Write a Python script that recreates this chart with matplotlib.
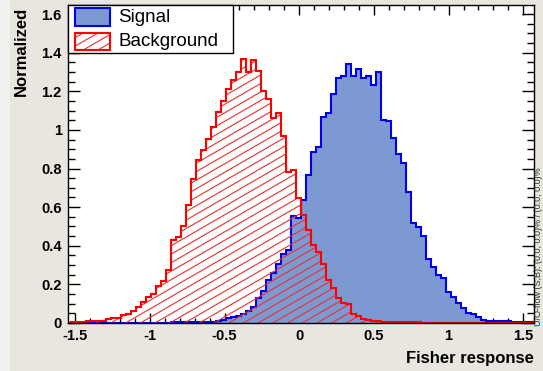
import numpy as np
import matplotlib
matplotlib.use("Agg")
import matplotlib.pyplot as plt
from matplotlib.patches import Rectangle
from matplotlib.collections import LineCollection
from matplotlib.ticker import MultipleLocator
from matplotlib.transforms import IdentityTransform

plt.rcParams['font.family'] = ['Liberation Sans', 'DejaVu Sans']

# ---------------- data ----------------
bin_lo = -1.558
bin_width = 0.03347

signal = [
    0, 0, 0, 0, 0, 0, 0, 0, 0, 0,
    0, 0, 0, 0, 0, 0, 0, 0.001, 0.001, 0.002,
    0.002, 0.003, 0.003, 0.004, 0.004, 0.005, 0.005, 0.006, 0.006, 0.007,
    0.008, 0.015, 0.024, 0.030, 0.035, 0.045, 0.060, 0.084, 0.130, 0.165,
    0.222, 0.260, 0.305, 0.355, 0.380, 0.553, 0.545, 0.636, 0.765, 0.885,
    0.911, 1.065, 1.087, 1.187, 1.267, 1.278, 1.342, 1.277, 1.318, 1.269,
    1.277, 1.234, 1.299, 1.051, 1.047, 0.957, 0.877, 0.828, 0.679, 0.518,
    0.498, 0.452, 0.332, 0.291, 0.248, 0.231, 0.162, 0.136, 0.102, 0.076,
    0.050, 0.045, 0.033, 0.015, 0.012, 0.012, 0.012, 0.012, 0.010, 0.006,
    0.006, 0.006, 0.006, 0.006,
]

background = [
    0.002, 0.003, 0.003, 0.006, 0.008, 0.010, 0.010, 0.012, 0.020, 0.024,
    0.025, 0.040, 0.048, 0.060, 0.085, 0.108, 0.137, 0.150, 0.193, 0.220,
    0.274, 0.432, 0.445, 0.500, 0.610, 0.748, 0.842, 0.894, 0.954, 1.015,
    1.092, 1.152, 1.213, 1.261, 1.302, 1.368, 1.300, 1.364, 1.307, 1.204,
    1.161, 1.060, 1.090, 0.970, 0.780, 0.790, 0.646, 0.560, 0.480, 0.403,
    0.368, 0.308, 0.222, 0.179, 0.129, 0.105, 0.100, 0.045, 0.036, 0.020,
    0.018, 0.012, 0.008, 0.007, 0.006, 0.004, 0.004, 0.004, 0.003, 0.003,
    0.003, 0.002, 0.002, 0.002, 0.002, 0.001, 0.001, 0.001, 0.001, 0.001,
    0.001, 0.001, 0, 0, 0, 0, 0, 0, 0, 0,
    0, 0, 0, 0,
]

x_ticks = [-1.5, -1, -0.5, 0, 0.5, 1, 1.5]
x_tick_labels = ["-1.5", "-1", "-0.5", "0", "0.5", "1", "1.5"]
y_ticks = [0, 0.2, 0.4, 0.6, 0.8, 1.0, 1.2, 1.4, 1.6]
y_tick_labels = ["0", "0.2", "0.4", "0.6", "0.8", "1", "1.2", "1.4", "1.6"]
x_label = "Fisher response"
y_label = "Normalized"
legend_labels = ["Signal", "Background"]
uo_text = "U/O-flow (S,B): (0.0, 0.0)% / (0.0, 0.0)%"

# ---------------- style ----------------
W, H = 543, 371
sig_fill = '#7d99d1'
sig_line = '#0000ee'
bkg_line = '#ff0000'
hatch_col = '#e83030'

fig = plt.figure(figsize=(W / 100, H / 100), dpi=100)
fig.patch.set_facecolor('#e8e6de')
fig.patches.append(Rectangle((0, 0), 10 / W, 1, transform=fig.transFigure,
                             facecolor='#f1f1f0', edgecolor='none', zorder=-5))


def px(x, y):
    """pixel (from top-left) -> figure fraction"""
    return x / W, 1 - y / H


ax_l, ax_r, ax_t, ax_b = 68, 534, 5, 323
ax = fig.add_axes([ax_l / W, 1 - ax_b / H, (ax_r - ax_l) / W, (ax_b - ax_t) / H])
ax.set_facecolor('#fffffd')

edges = bin_lo + bin_width * np.arange(len(signal) + 1)

ax.stairs(signal, edges, fill=True, facecolor=sig_fill, edgecolor='none', zorder=2)
ax.stairs(signal, edges, color=sig_line, lw=1.5, zorder=3)
bkg_patch = ax.stairs(background, edges, fill=True, facecolor='none',
                      edgecolor='none', zorder=4)


def hatch_segments(x0, x1, y0, y1, angle_deg=30, spacing=8.0):
    t = np.tan(np.radians(angle_deg))
    segs = []
    c = y0 - (x1 - x0) * t - spacing
    while c < y1 + spacing:
        segs.append([(x0, c), (x1, c + (x1 - x0) * t)])
        c += spacing
    return segs


# hatch for background histogram (display pixel coords, origin bottom-left)
segs = hatch_segments(0, W, 0, H, 30, 8.5)
lc = LineCollection(segs, colors=hatch_col, linewidths=0.8,
                    transform=IdentityTransform(), zorder=4.5)
ax.add_collection(lc, autolim=False)
lc.set_clip_path(bkg_patch)

ax.stairs(background, edges, color=bkg_line, lw=1.5, zorder=5)

ax.set_xlim(-1.5476, 1.5716)
ax.set_ylim(0, 1.647)

ax.set_xticks(x_ticks, x_tick_labels)
ax.set_yticks(y_ticks, y_tick_labels)
ax.xaxis.set_minor_locator(MultipleLocator(0.1))
ax.yaxis.set_minor_locator(MultipleLocator(0.05))
ax.tick_params(which='both', direction='in', top=True, right=True, width=1,
               labelsize=10.5, colors='black')
ax.tick_params(axis='x', which='major', length=7.2, pad=4)
ax.tick_params(axis='x', which='minor', length=3.6)
ax.tick_params(axis='y', which='major', length=8.5, pad=4.5)
ax.tick_params(axis='y', which='minor', length=4.8)
for lab in ax.get_xticklabels() + ax.get_yticklabels():
    lab.set_fontweight('bold')
for s in ax.spines.values():
    s.set_linewidth(1.0)
    s.set_zorder(10)

# axis titles
fig.text(*px(534, 358), x_label, ha='right', va='center', fontsize=12,
         fontweight='bold')
fig.text(*px(21, 7), y_label, ha='center', va='top', rotation=90,
         fontsize=12, fontweight='bold')

# under/overflow text
fig.text(*px(538.5, 326), uo_text, ha='center', va='bottom', rotation=90,
         fontsize=6.5, color='#303030')

# ---------------- legend (manual, ROOT style) ----------------
lx0, ly0, lx1, ly1 = 68, 5, 233, 53
fx, fy = px(lx0, ly1)
leg_frame = Rectangle((fx, fy), (lx1 - lx0) / W, (ly1 - ly0) / H,
                      transform=fig.transFigure, facecolor='white',
                      edgecolor='black', lw=1.0, zorder=20)
fig.patches.append(leg_frame)

bx0, bx1 = 75, 110
# signal box
sx, sy = px(bx0, 26)
fig.patches.append(Rectangle((sx, sy), (bx1 - bx0) / W, 18 / H,
                             transform=fig.transFigure, facecolor=sig_fill,
                             edgecolor=sig_line, lw=1.5, zorder=21))
# background box
bxf, byf = px(bx0, 50)
bk_rect = Rectangle((bxf, byf), (bx1 - bx0) / W, 17 / H,
                    transform=fig.transFigure, facecolor='white',
                    edgecolor='none', zorder=21)
fig.patches.append(bk_rect)
lc2 = LineCollection(hatch_segments(0, W, 0, H, 30, 8.5), colors=hatch_col,
                     linewidths=0.8, transform=IdentityTransform(), zorder=22)
fig.add_artist(lc2)
lc2.set_clip_path(bk_rect)
fig.patches.append(Rectangle((bxf, byf), (bx1 - bx0) / W, 17 / H,
                             transform=fig.transFigure, facecolor='none',
                             edgecolor=bkg_line, lw=1.5, zorder=23))

fig.text(*px(118, 17), legend_labels[0], ha='left', va='center',
         fontsize=13.5, zorder=24)
fig.text(*px(118, 42), legend_labels[1], ha='left', va='center',
         fontsize=13.5, zorder=24)

fig.savefig('out.png', dpi=100, facecolor=fig.get_facecolor())
